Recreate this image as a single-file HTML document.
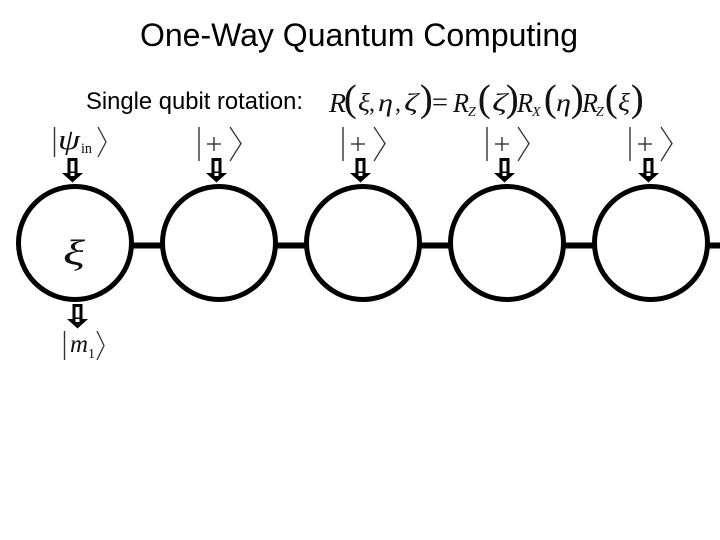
<!DOCTYPE html>
<html><head><meta charset="utf-8"><style>
html,body{margin:0;padding:0;background:#fff}
svg{display:block}
.s{font-family:"Liberation Sans",sans-serif;fill:#000}
.m{font-family:"Liberation Serif","DejaVu Serif",serif;font-style:italic;fill:#111}
.r{font-family:"Liberation Serif","DejaVu Serif",serif;fill:#111}
.p{font-family:"Liberation Serif","DejaVu Serif",serif;fill:#111;font-size:38px;stroke:#111;stroke-width:.2}
</style></head><body>
<svg width="720" height="540" viewBox="0 0 720 540" xmlns="http://www.w3.org/2000/svg">
<defs>
<g id="arr"><path d="M-3.500 1.500H3.500V15H-3.500Z" fill="#fff" stroke="#000" stroke-width="3"/><path d="M-10.500 15H10.500L0 24.500Z" fill="#000"/><path d="M-2 15H2V18H-2Z" fill="#fff"/></g>
<g id="ket"><path d="M0 0V34" stroke="#333" stroke-width="1.4" fill="none"/><path d="M31 0L42 16.500L31 34" stroke="#333" stroke-width="1.3" fill="none"/><path d="M8 17H22M15 10V24" stroke="#222" stroke-width="1.3" fill="none"/></g>
</defs>
<text class="s" x="140" y="46" font-size="32" textLength="438" lengthAdjust="spacingAndGlyphs">One-Way Quantum Computing</text>
<text class="s" x="86" y="109" font-size="24" textLength="217" lengthAdjust="spacingAndGlyphs">Single qubit rotation:</text>

<text class="m" x="329" y="112" font-size="27" textLength="17" lengthAdjust="spacingAndGlyphs">R</text>
<text class="p" x="344" y="111">(</text>
<text class="m" x="358" y="111" font-size="25" textLength="12" lengthAdjust="spacingAndGlyphs">ξ</text>
<text class="r" x="369" y="111" font-size="24">,</text>
<text class="m" x="378" y="111" font-size="25" textLength="15" lengthAdjust="spacingAndGlyphs">η</text>
<text class="r" x="395" y="111" font-size="24">,</text>
<text class="m" x="404" y="111" font-size="25" textLength="14" lengthAdjust="spacingAndGlyphs">ζ</text>
<text class="p" x="420" y="111">)</text>
<text class="r" x="432" y="111" font-size="27" textLength="16" lengthAdjust="spacingAndGlyphs">=</text>
<text class="m" x="453" y="112" font-size="27" textLength="16" lengthAdjust="spacingAndGlyphs">R</text>
<text class="m" x="468" y="116" font-size="14">Z</text>
<text class="p" x="478" y="111">(</text>
<text class="m" x="492" y="111" font-size="25" textLength="15" lengthAdjust="spacingAndGlyphs">ζ</text>
<text class="p" x="506" y="111">)</text>
<text class="m" x="517" y="112" font-size="27" textLength="16" lengthAdjust="spacingAndGlyphs">R</text>
<text class="m" x="532" y="116" font-size="14">X</text>
<text class="p" x="544" y="111">(</text>
<text class="m" x="556" y="111" font-size="25" textLength="15" lengthAdjust="spacingAndGlyphs">η</text>
<text class="p" x="571" y="111">)</text>
<text class="m" x="582" y="112" font-size="27" textLength="16" lengthAdjust="spacingAndGlyphs">R</text>
<text class="m" x="596" y="116" font-size="14">Z</text>
<text class="p" x="605" y="111">(</text>
<text class="m" x="618" y="111" font-size="25" textLength="12" lengthAdjust="spacingAndGlyphs">ξ</text>
<text class="p" x="631" y="111">)</text>

<path d="M54.500 127V157" stroke="#333" stroke-width="1.4" fill="none"/>
<path d="M98 127L106 142L98 157" stroke="#333" stroke-width="1.3" fill="none"/>
<text class="m" x="58" y="149" font-size="28" textLength="22" lengthAdjust="spacingAndGlyphs">ψ</text>
<text class="r" x="81" y="153" font-size="15" textLength="11" lengthAdjust="spacingAndGlyphs">in</text>

<use href="#ket" x="199" y="127"/>
<use href="#ket" x="343" y="127"/>
<use href="#ket" x="487" y="127"/>
<use href="#ket" x="630" y="127"/>

<use href="#arr" x="72.500" y="158"/>
<use href="#arr" x="216.500" y="158"/>
<use href="#arr" x="360.500" y="158"/>
<use href="#arr" x="504.500" y="158"/>
<use href="#arr" x="648.500" y="158"/>
<use href="#arr" x="77.500" y="304"/>

<path d="M133 245.500H161M277 245.500H305M421 245.500H449M565 245.500H593M709 245.500H720" stroke="#000" stroke-width="6" fill="none"/>
<g fill="none" stroke="#000" stroke-width="5">
<circle cx="75" cy="243" r="56.500"/>
<circle cx="219" cy="243" r="56.500"/>
<circle cx="363" cy="243" r="56.500"/>
<circle cx="507" cy="243" r="56.500"/>
<circle cx="651" cy="243" r="56.500"/>
</g>
<text class="m" x="63" y="265" font-size="36" textLength="22" lengthAdjust="spacingAndGlyphs">ξ</text>

<path d="M64.500 331V360" stroke="#333" stroke-width="1.4" fill="none"/>
<path d="M97 331L104 345.500L97 360" stroke="#333" stroke-width="1.3" fill="none"/>
<text class="m" x="70" y="352" font-size="25" textLength="18" lengthAdjust="spacingAndGlyphs">m</text>
<text class="r" x="88" y="358" font-size="14">1</text>
</svg>
</body></html>
